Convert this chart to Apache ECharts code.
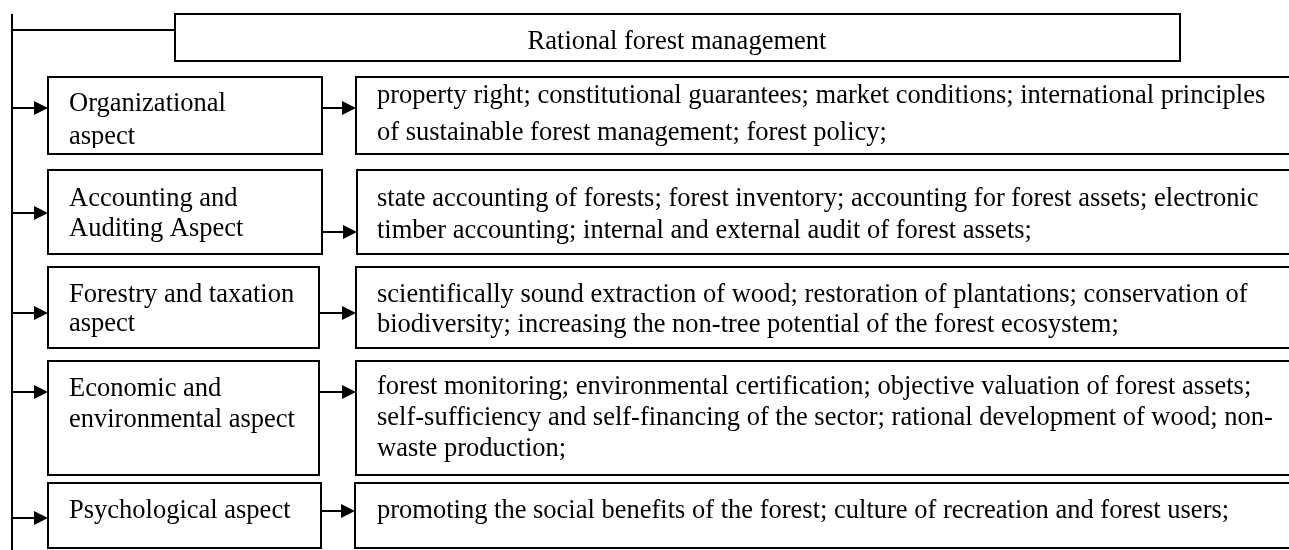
<!DOCTYPE html>
<html>
<head>
<meta charset="utf-8">
<script src="https://cdn.jsdelivr.net/npm/echarts@6/dist/echarts.min.js"></script>
<style>
  html, body { margin: 0; padding: 0; background: #fff; }
  #chart { width: 1289px; height: 550px; }
</style>
</head>
<body>
<div id="chart"></div>
<script>
// diagram content
const title = 'Rational forest management'
const aspects = [
  'Organizational\naspect',
  'Accounting and\nAuditing Aspect',
  'Forestry and taxation\naspect',
  'Economic and\nenvironmental aspect',
  'Psychological aspect'
]
const details = [
  'property right; constitutional guarantees; market conditions; international principles\nof sustainable forest management; forest policy;',
  'state accounting of forests; forest inventory; accounting for forest assets; electronic\ntimber accounting; internal and external audit of forest assets;',
  'scientifically sound extraction of wood; restoration of plantations; conservation of\nbiodiversity; increasing the non-tree potential of the forest ecosystem;',
  'forest monitoring; environmental certification; objective valuation of forest assets;\nself-sufficiency and self-financing of the sector; rational development of wood; non-\nwaste production;',
  'promoting the social benefits of the forest; culture of recreation and forest users;'
]

// layout (pixels): box extents, arrow heights, first-line offsets and line heights
const rows = [
  { top: 77, bottom: 154, leftArrow: 108, rightArrow: 108, lw: 322, rx: 356, la: 27, lh: 33, da: 19, dlh: 37, clip: true },
  { top: 170, bottom: 254, leftArrow: 213, rightArrow: 232, lw: 322, rx: 357, la: 29, lh: 30, da: 29, dlh: 32 },
  { top: 267, bottom: 348, leftArrow: 313, rightArrow: 313, lw: 319, rx: 356, la: 28, lh: 29, da: 28, dlh: 30 },
  { top: 361, bottom: 475, leftArrow: 392, rightArrow: 392, lw: 319, rx: 356, la: 28, lh: 31, da: 26, dlh: 31 },
  { top: 483, bottom: 548, leftArrow: 518, rightArrow: 511, lw: 321, rx: 355, la: 28, lh: 30, da: 28, dlh: 30 }
]
const FONT = '26.5px "Liberation Serif", "Times New Roman", serif'
const LINE = { stroke: '#000', lineWidth: 2 }
const spineX = 12
const boxLeft = 48

const g = []
const box = (x1, y1, x2, y2) => ({
  type: 'rect', shape: { x: x1, y: y1, width: x2 - x1, height: y2 - y1 },
  style: { fill: '#fff', stroke: '#000', lineWidth: 2 }
})
const arrow = (x1, x2, y) => [
  { type: 'line', shape: { x1: x1, y1: y, x2: x2 - 12, y2: y }, style: LINE },
  { type: 'polygon', shape: { points: [[x2 - 14, y - 7], [x2, y], [x2 - 14, y + 7]] }, style: { fill: '#000' } }
]
const text = (str, x, y, lh, align) => ({
  type: 'text', z: 10,
  style: { text: str, x: x, y: y, font: FONT, fill: '#000', align: align || 'left', verticalAlign: 'middle', lineHeight: lh }
})

// spine and title
g.push({ type: 'line', shape: { x1: spineX, y1: 14, x2: spineX, y2: 550 }, style: LINE })
g.push({ type: 'line', shape: { x1: spineX, y1: 30, x2: 175, y2: 30 }, style: LINE })
g.push(box(175, 14, 1180, 61))
g.push(text(title, 677, 42, 28, 'center'))

rows.forEach((r, i) => {
  g.push(box(boxLeft, r.top, r.lw, r.bottom))
  g.push(box(r.rx, r.top, 1300, r.bottom))
  g.push(...arrow(spineX, boxLeft, r.leftArrow))
  g.push(...arrow(r.lw, r.rx, r.rightArrow))
  const n = aspects[i].split('\n').length
  const m = details[i].split('\n').length
  g.push(text(aspects[i], 69, r.top + r.la + (n - 1) * r.lh / 2, r.lh))
  g.push(text(details[i], 377, r.top + r.da + (m - 1) * r.dlh / 2, r.dlh))
  if (r.clip) {
    // text is cut off just above the lower border in the source
    g.push({ type: 'rect', z: 20, shape: { x: boxLeft + 2, y: r.bottom - 6, width: r.lw - boxLeft - 4, height: 5 }, style: { fill: '#fff' } })
    g.push({ type: 'rect', z: 20, shape: { x: r.rx + 2, y: r.bottom - 6, width: 1300 - r.rx, height: 5 }, style: { fill: '#fff' } })
  }
})

const chart = echarts.init(document.getElementById('chart'))
chart.setOption({ animation: false, graphic: { elements: g } })
</script>
</body>
</html>
